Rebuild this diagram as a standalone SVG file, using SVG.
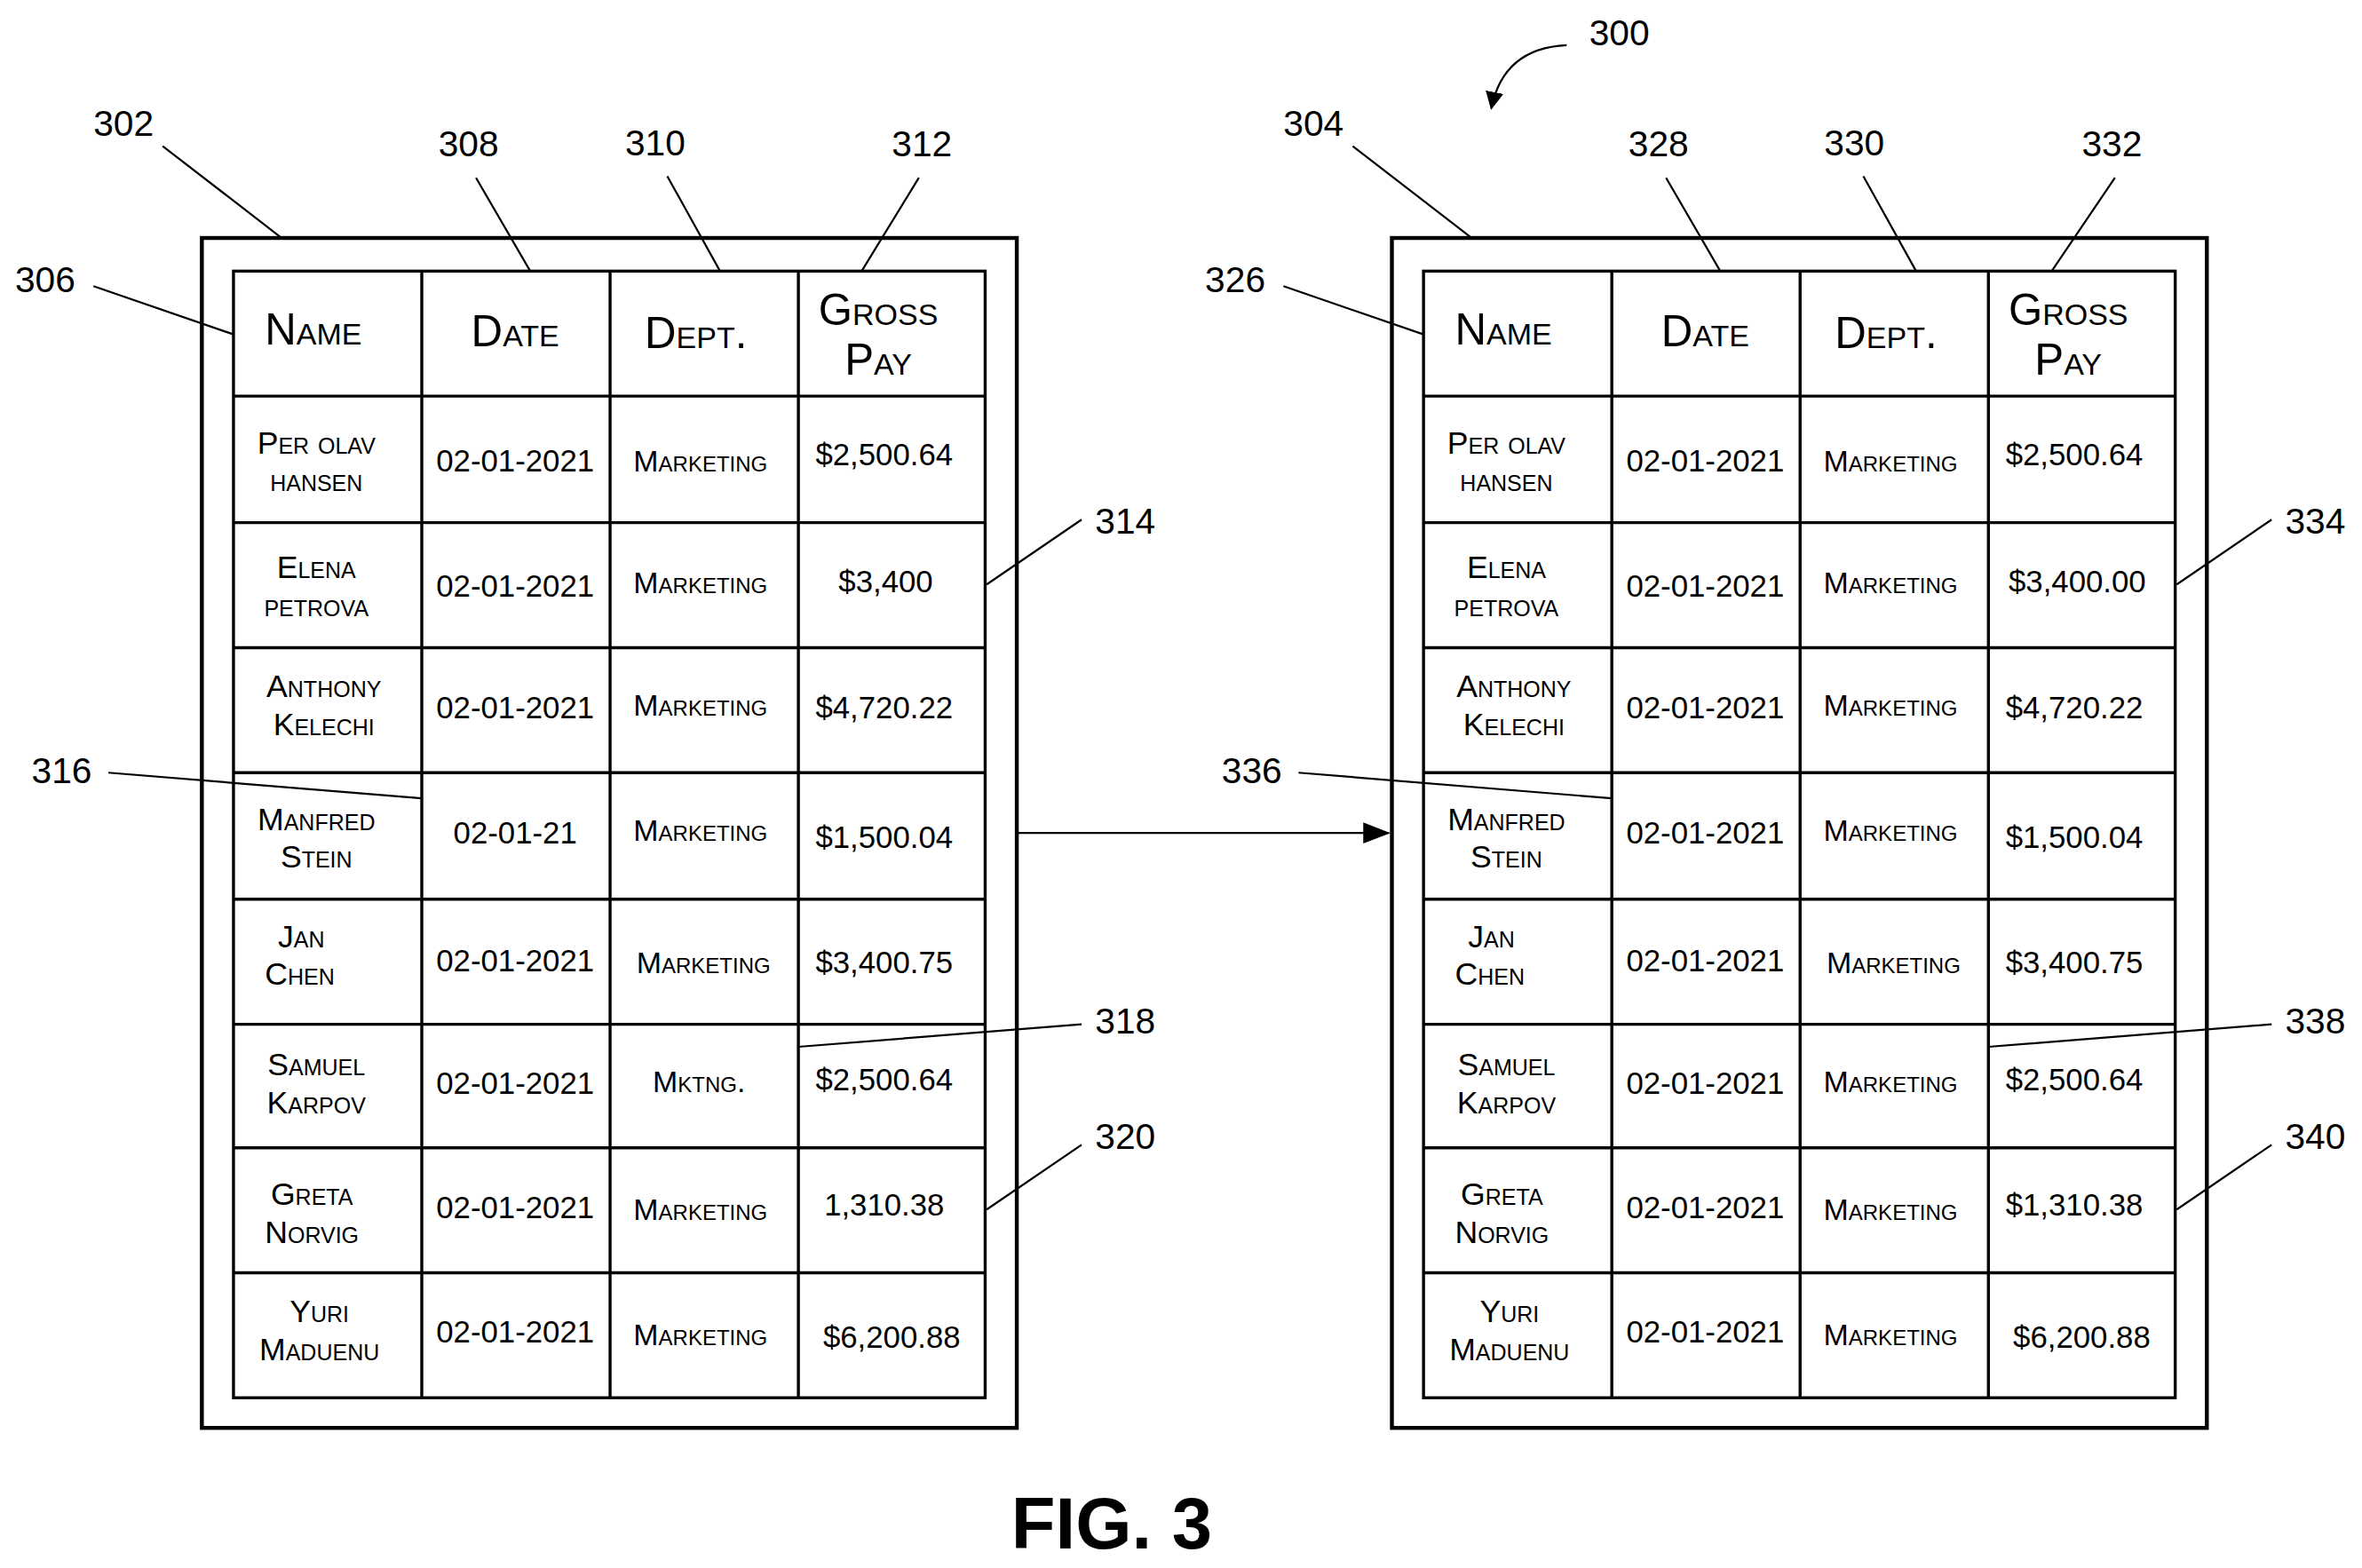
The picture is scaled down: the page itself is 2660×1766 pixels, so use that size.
<svg xmlns="http://www.w3.org/2000/svg" width="2660" height="1766" viewBox="0 0 2660 1766">
<style>
text{font-family:"Liberation Sans",Arial,sans-serif;fill:#000;text-anchor:middle}
.sc{font-variant:small-caps}
.h{font-size:29px}
.n{font-size:21px}
.d{font-size:20.5px}
.m{font-size:20px}
.lb{font-size:24px}
.box{fill:none;stroke:#000;stroke-width:2.6}
.tb{fill:none;stroke:#000;stroke-width:2}
.ld{fill:none;stroke:#000;stroke-width:1.3}
</style>
<defs>
<marker id="ah" markerWidth="18" markerHeight="14" refX="17" refY="7" orient="auto" markerUnits="userSpaceOnUse"><path d="M0,0 L18,7 L0,14 Z" fill="#000"/></marker>
<marker id="ah2" markerWidth="12" markerHeight="12" refX="11" refY="6" orient="auto" markerUnits="userSpaceOnUse"><path d="M0,0 L12,6 L0,12 Z" fill="#000"/></marker>
<g id="grid">
<rect class="tb" x="155" y="180" width="499" height="748"/>
<path class="tb" d="M280,180V928M405,180V928M530,180V928M155,263H654M155,347H654M155,430H654M155,513H654M155,597H654M155,680H654M155,762H654M155,845H654"/>
</g>
</defs>
<rect width="2660" height="1766" fill="#fff"/>
<g transform="scale(1.69643)">
<g id="table302">
<rect class="box" x="134" y="158" width="541" height="790"/>
<use href="#grid"/>
<text class="h sc" x="208" y="229">Name</text><text class="h sc" x="342" y="230">Date</text><text class="h sc" x="462" y="231">Dept.</text><text class="h sc" x="583" y="216">Gross</text><text class="h sc" x="583" y="249">Pay</text>
<g class="n sc">
<text x="210" y="301">Per olav</text><text x="210" y="326">hansen</text>
<text x="210" y="384">Elena</text><text x="210" y="409">petrova</text>
<text x="215" y="463">Anthony</text><text x="215" y="488">Kelechi</text>
<text x="210" y="551">Manfred</text><text x="210" y="576">Stein</text>
<text x="200" y="629">Jan</text><text x="199" y="654">Chen</text>
<text x="210" y="714">Samuel</text><text x="210" y="739">Karpov</text>
<text x="207" y="800">Greta</text><text x="207" y="825">Norvig</text>
<text x="212" y="878">Yuri</text><text x="212" y="903">Maduenu</text>
</g>
<g class="d">
<text x="342" y="313">02-01-2021</text><text x="342" y="396">02-01-2021</text><text x="342" y="477">02-01-2021</text><text x="342" y="560">02-01-21</text><text x="342" y="645">02-01-2021</text><text x="342" y="726">02-01-2021</text><text x="342" y="809">02-01-2021</text><text x="342" y="891">02-01-2021</text>
<text x="587" y="309">$2,500.64</text><text x="588" y="393">$3,400</text><text x="587" y="477">$4,720.22</text><text x="587" y="563">$1,500.04</text><text x="587" y="646">$3,400.75</text><text x="587" y="724">$2,500.64</text><text x="587" y="807">1,310.38</text><text x="592" y="895">$6,200.88</text>
</g>
<g class="m sc">
<text x="465" y="313">Marketing</text><text x="465" y="394">Marketing</text><text x="465" y="475">Marketing</text><text x="465" y="558">Marketing</text><text x="467" y="646">Marketing</text><text x="464" y="725">Mktng.</text><text x="465" y="810">Marketing</text><text x="465" y="893">Marketing</text>
</g>
</g>
<g id="table304" transform="translate(790,0)">
<rect class="box" x="134" y="158" width="541" height="790"/>
<use href="#grid"/>
<text class="h sc" x="208" y="229">Name</text><text class="h sc" x="342" y="230">Date</text><text class="h sc" x="462" y="231">Dept.</text><text class="h sc" x="583" y="216">Gross</text><text class="h sc" x="583" y="249">Pay</text>
<g class="n sc">
<text x="210" y="301">Per olav</text><text x="210" y="326">hansen</text>
<text x="210" y="384">Elena</text><text x="210" y="409">petrova</text>
<text x="215" y="463">Anthony</text><text x="215" y="488">Kelechi</text>
<text x="210" y="551">Manfred</text><text x="210" y="576">Stein</text>
<text x="200" y="629">Jan</text><text x="199" y="654">Chen</text>
<text x="210" y="714">Samuel</text><text x="210" y="739">Karpov</text>
<text x="207" y="800">Greta</text><text x="207" y="825">Norvig</text>
<text x="212" y="878">Yuri</text><text x="212" y="903">Maduenu</text>
</g>
<g class="d">
<text x="342" y="313">02-01-2021</text><text x="342" y="396">02-01-2021</text><text x="342" y="477">02-01-2021</text><text x="342" y="560">02-01-2021</text><text x="342" y="645">02-01-2021</text><text x="342" y="726">02-01-2021</text><text x="342" y="809">02-01-2021</text><text x="342" y="891">02-01-2021</text>
<text x="587" y="309">$2,500.64</text><text x="589" y="393">$3,400.00</text><text x="587" y="477">$4,720.22</text><text x="587" y="563">$1,500.04</text><text x="587" y="646">$3,400.75</text><text x="587" y="724">$2,500.64</text><text x="587" y="807">$1,310.38</text><text x="592" y="895">$6,200.88</text>
</g>
<g class="m sc">
<text x="465" y="313">Marketing</text><text x="465" y="394">Marketing</text><text x="465" y="475">Marketing</text><text x="465" y="558">Marketing</text><text x="467" y="646">Marketing</text><text x="465" y="725">Marketing</text><text x="465" y="810">Marketing</text><text x="465" y="893">Marketing</text>
</g>
</g>
<g id="connectors">
<path class="ld" d="M675,553H922" stroke-width="1.6" marker-end="url(#ah)"/>
<path class="ld" d="M1040,30 Q998,32 990,72" stroke-width="1.6" marker-end="url(#ah2)"/>
<path class="ld" d="M108,97L187,158M316,118L352,180M443,117L478,180M610,118L572,180M62,190L155,222M718,345L655,388M72,513L280,530M718,680L530,695M718,760L655,803"/>
<path class="ld" d="M898,97L977,158M1106,118L1142,180M1237,117L1272,180M1404,118L1362,180M852,190L945,222M1508,345L1445,388M862,513L1070,530M1508,680L1320,695M1508,760L1445,803"/>
</g>
<g id="labels" class="lb">
<text x="1075" y="30">300</text>
<text x="82" y="90">302</text><text x="311" y="104">308</text><text x="435" y="103">310</text><text x="612" y="104">312</text><text x="30" y="194">306</text><text x="747" y="354">314</text><text x="41" y="520">316</text><text x="747" y="686">318</text><text x="747" y="763">320</text>
<text x="872" y="90">304</text><text x="1101" y="104">328</text><text x="1231" y="103">330</text><text x="1402" y="104">332</text><text x="820" y="194">326</text><text x="1537" y="354">334</text><text x="831" y="520">336</text><text x="1537" y="686">338</text><text x="1537" y="763">340</text>
</g>
<text x="738" y="1028" style="font-size:48px;font-weight:bold">FIG. 3</text>
</g>
</svg>
